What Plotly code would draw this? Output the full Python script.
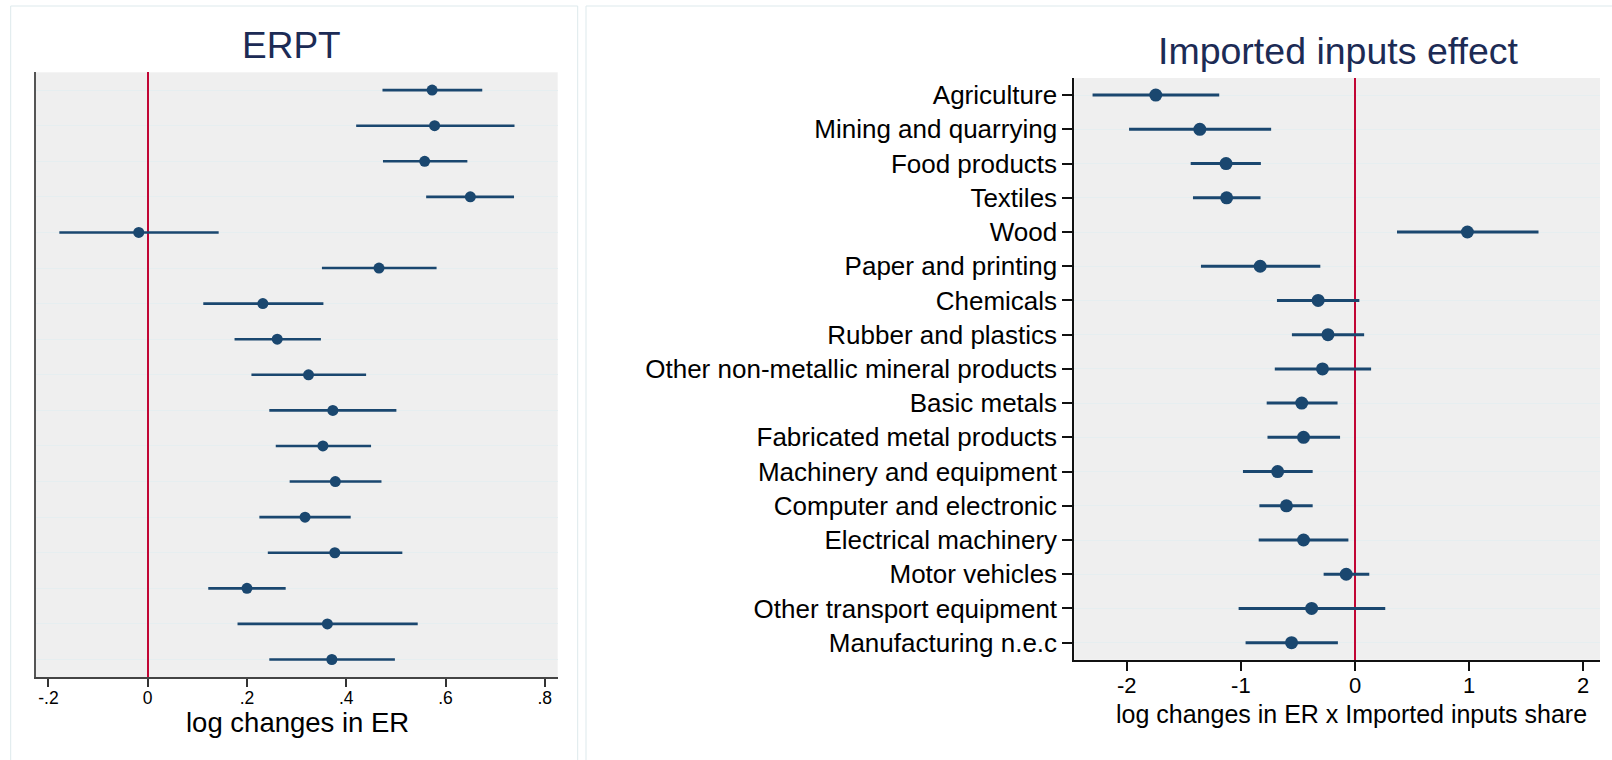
import plotly.graph_objects as go

# ---------------- data ----------------
industries = [
    "Agriculture", "Mining and quarrying", "Food products", "Textiles", "Wood",
    "Paper and printing", "Chemicals", "Rubber and plastics",
    "Other non-metallic mineral products", "Basic metals",
    "Fabricated metal products", "Machinery and equipment",
    "Computer and electronic", "Electrical machinery", "Motor vehicles",
    "Other transport equipment", "Manufacturing n.e.c",
]

erpt_coef = [0.573, 0.578, 0.558, 0.650, -0.018, 0.466, 0.232, 0.261, 0.324,
             0.373, 0.353, 0.378, 0.317, 0.377, 0.200, 0.362, 0.371]
erpt_lo = [0.473, 0.420, 0.474, 0.561, -0.178, 0.351, 0.112, 0.175, 0.209,
           0.245, 0.258, 0.286, 0.225, 0.242, 0.122, 0.181, 0.245]
erpt_hi = [0.674, 0.739, 0.644, 0.738, 0.143, 0.582, 0.354, 0.349, 0.440,
           0.501, 0.450, 0.471, 0.409, 0.513, 0.278, 0.544, 0.498]

ii_coef = [-1.746, -1.360, -1.130, -1.125, 0.985, -0.831, -0.323, -0.237, -0.285,
           -0.467, -0.451, -0.678, -0.601, -0.451, -0.077, -0.380, -0.556]
ii_lo = [-2.300, -1.980, -1.440, -1.420, 0.368, -1.350, -0.684, -0.553, -0.703,
         -0.774, -0.767, -0.982, -0.838, -0.844, -0.275, -1.020, -0.959]
ii_hi = [-1.190, -0.735, -0.825, -0.828, 1.608, -0.304, 0.038, 0.080, 0.141,
         -0.153, -0.131, -0.371, -0.371, -0.058, 0.125, 0.265, -0.150]

erpt_ticks = [-0.2, 0, 0.2, 0.4, 0.6, 0.8]
erpt_ticktext = ["-.2", "0", ".2", ".4", ".6", ".8"]
ii_ticks = [-2, -1, 0, 1, 2]
ii_ticktext = ["-2", "-1", "0", "1", "2"]

# ---------------- styling ----------------
W, H = 1612, 760
NAVY = "#1a476f"
RED = "#c10534"
BG = "#efefef"
GRID = "#e6eef0"
TITLE_C = "#1c2b55"
FONT = "Arial, Liberation Sans, sans-serif"
BORDER = "#dde9ec"


def px(x):
    return x / W


def py(y):
    return 1 - y / H


fig = go.Figure()

fig.add_trace(go.Scatter(
    x=erpt_coef, y=industries, mode="markers",
    marker=dict(color=NAVY, size=11),
    error_x=dict(type="data", symmetric=False,
                 array=[h - c for h, c in zip(erpt_hi, erpt_coef)],
                 arrayminus=[c - l for c, l in zip(erpt_coef, erpt_lo)],
                 width=0, thickness=2.6, color=NAVY),
    xaxis="x", yaxis="y", showlegend=False, hoverinfo="skip",
))

fig.add_trace(go.Scatter(
    x=ii_coef, y=industries, mode="markers",
    marker=dict(color=NAVY, size=13),
    error_x=dict(type="data", symmetric=False,
                 array=[h - c for h, c in zip(ii_hi, ii_coef)],
                 arrayminus=[c - l for c, l in zip(ii_coef, ii_lo)],
                 width=0, thickness=3, color=NAVY),
    xaxis="x2", yaxis="y2", showlegend=False, hoverinfo="skip",
))

n = len(industries)

fig.update_layout(
    width=W, height=H,
    margin=dict(l=0, r=0, t=0, b=0),
    paper_bgcolor="white",
    plot_bgcolor=BG,
    font=dict(family=FONT, color="black"),
    xaxis=dict(
        domain=[px(36), px(557.7)], anchor="y",
        range=[-0.225, 0.826],
        tickvals=erpt_ticks, ticktext=erpt_ticktext,
        tickfont=dict(size=17.5, color="black"),
        ticks="outside", ticklen=8, tickwidth=1.5, tickcolor="#333333",
        ticklabelstandoff=-4,
        showline=True, linecolor="#444444", linewidth=2,
        showgrid=False,
        zeroline=True, zerolinecolor=RED, zerolinewidth=2,
    ),
    yaxis=dict(
        domain=[py(677.3), py(72.3)], anchor="x",
        type="category", categoryorder="array", categoryarray=industries,
        range=[n - 0.5, -0.5],
        showticklabels=False, ticks="",
        showline=True, linecolor="#555555", linewidth=2,
        showgrid=True, gridcolor=GRID, gridwidth=1,
        zeroline=False,
    ),
    xaxis2=dict(
        domain=[px(1074.3), px(1600)], anchor="y2",
        range=[-2.46, 2.147],
        tickvals=ii_ticks, ticktext=ii_ticktext,
        tickfont=dict(size=22, color="black"),
        ticks="outside", ticklen=9, tickwidth=1.5, tickcolor="#111111",
        ticklabelstandoff=-4,
        showline=True, linecolor="#111111", linewidth=2,
        showgrid=False,
        zeroline=True, zerolinecolor=RED, zerolinewidth=2,
    ),
    yaxis2=dict(
        domain=[py(659.8), py(78)], anchor="x2",
        type="category", categoryorder="array", categoryarray=industries,
        range=[n - 0.5, -0.5],
        tickfont=dict(size=26, color="black"),
        ticks="outside", ticklen=10, tickwidth=1.5, tickcolor="#111111",
        showline=True, linecolor="#111111", linewidth=2,
        showgrid=True, gridcolor=GRID, gridwidth=1,
        zeroline=False,
    ),
)

# panel frames
fig.add_shape(type="rect", xref="paper", yref="paper",
              x0=px(10.7), x1=px(577.7), y0=py(762), y1=py(6),
              line=dict(color=BORDER, width=1), fillcolor="rgba(0,0,0,0)", layer="below")
fig.add_shape(type="rect", xref="paper", yref="paper",
              x0=px(586), x1=px(1630), y0=py(762), y1=py(6),
              line=dict(color=BORDER, width=1), fillcolor="rgba(0,0,0,0)", layer="below")

# titles
fig.add_annotation(text="ERPT", xref="paper", yref="paper",
                   x=px(291), y=py(45), xanchor="center", yanchor="middle",
                   showarrow=False, font=dict(size=37, color=TITLE_C, family=FONT))
fig.add_annotation(text="Imported inputs effect", xref="paper", yref="paper",
                   x=px(1338), y=py(51), xanchor="center", yanchor="middle",
                   showarrow=False, font=dict(size=37.5, color=TITLE_C, family=FONT))

# axis titles
fig.add_annotation(text="log changes in ER", xref="paper", yref="paper",
                   x=px(297), y=py(722), xanchor="center", yanchor="middle",
                   showarrow=False, font=dict(size=27.5, color="black", family=FONT))
fig.add_annotation(text="log changes in ER x Imported inputs share", xref="paper", yref="paper",
                   x=px(1351), y=py(714), xanchor="center", yanchor="middle",
                   showarrow=False, font=dict(size=25, color="black", family=FONT))

fig.write_html("out.html",
               config={"displayModeBar": False},
               post_script="document.body.style.margin='0';document.body.style.overflow='hidden';")
